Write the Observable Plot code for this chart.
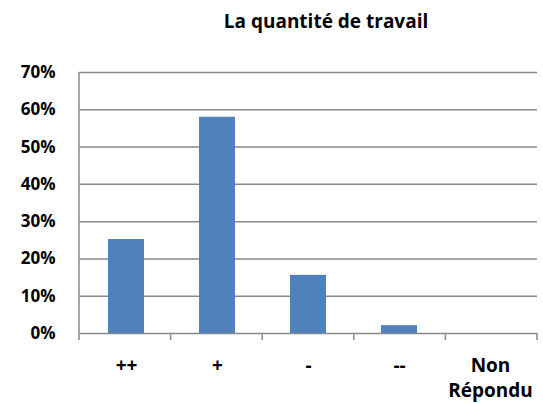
<!DOCTYPE html>
<html>
<head>
<meta charset="utf-8">
<script src="https://cdn.jsdelivr.net/npm/d3@7"></script>
<script src="https://cdn.jsdelivr.net/npm/@observablehq/plot@0.6"></script>
<style>
  html, body { margin: 0; padding: 0; background: #fff; }
  #wrap { width: 543px; font-family: "Open Sans", sans-serif; }
  #title { height: 50px; box-sizing: border-box; padding-top: 12px; padding-left: 0; width: 652px;
           text-align: center; font-size: 19px; font-weight: bold; line-height: 19px; color: #000; white-space: nowrap; }
</style>
</head>
<body>
<div id="wrap">
  <div id="title">La quantité de travail</div>
  <div id="chart"></div>
</div>
<script>
const title = "La quantité de travail";
const categories = ["++", "+", "-", "--", "Non Répondu"];
const tickLabels = ["++", "+", "-", "--", "Non\nRépondu"];
const values = [0.252, 0.58, 0.156, 0.021, 0];
const yTicks = [0, 0.1, 0.2, 0.3, 0.4, 0.5, 0.6, 0.7];

const data = categories.map((c, i) => ({category: c, value: values[i]}));
const labelOf = new Map(categories.map((c, i) => [c, tickLabels[i]]));

const gridColor = "#898989";

// axis line (left) and boundary ticks under the x axis
function frameDecor(index, scales, values, dimensions) {
  const {width, height, marginLeft, marginRight, marginTop, marginBottom} = dimensions;
  const g = d3.create("svg:g").attr("stroke", gridColor).attr("stroke-width", 1.5);
  const bottom = height - marginBottom;
  g.append("line").attr("x1", marginLeft).attr("x2", marginLeft)
    .attr("y1", marginTop).attr("y2", bottom + 7);
  const step = (width - marginLeft - marginRight) / categories.length;
  for (let i = 1; i <= categories.length; i++) {
    const x = marginLeft + i * step;
    g.append("line").attr("x1", x).attr("x2", x).attr("y1", bottom).attr("y2", bottom + 7);
  }
  return g.node();
}

const chart = Plot.plot({
  width: 543,
  height: 353,
  marginLeft: 79,
  marginRight: 6,
  marginTop: 22,
  marginBottom: 70,
  style: {fontFamily: "Open Sans, sans-serif", background: "#fff"},
  x: {domain: categories, paddingInner: 0.6, paddingOuter: 0.3, label: null},
  y: {domain: [0, 0.7], label: null},
  marks: [
    Plot.gridY(yTicks, {stroke: gridColor, strokeOpacity: 1, strokeWidth: 1.5}),
    Plot.barY(data, {x: "category", y: "value", fill: "#4F81BD"}),
    Plot.axisY(yTicks, {tickSize: 0, tickPadding: 24, tickFormat: d3.format(".0%"),
      fontSize: 17, fontWeight: "bold", fill: "#000", label: null}),
    Plot.axisX({tickSize: 0, tickPadding: 21, tickFormat: d => labelOf.get(d),
      fontSize: 19, fontWeight: "bold", fill: "#000", lineHeight: 1.32, label: null}),
    frameDecor
  ]
});
document.getElementById("chart").appendChild(chart);
</script>
</body>
</html>
